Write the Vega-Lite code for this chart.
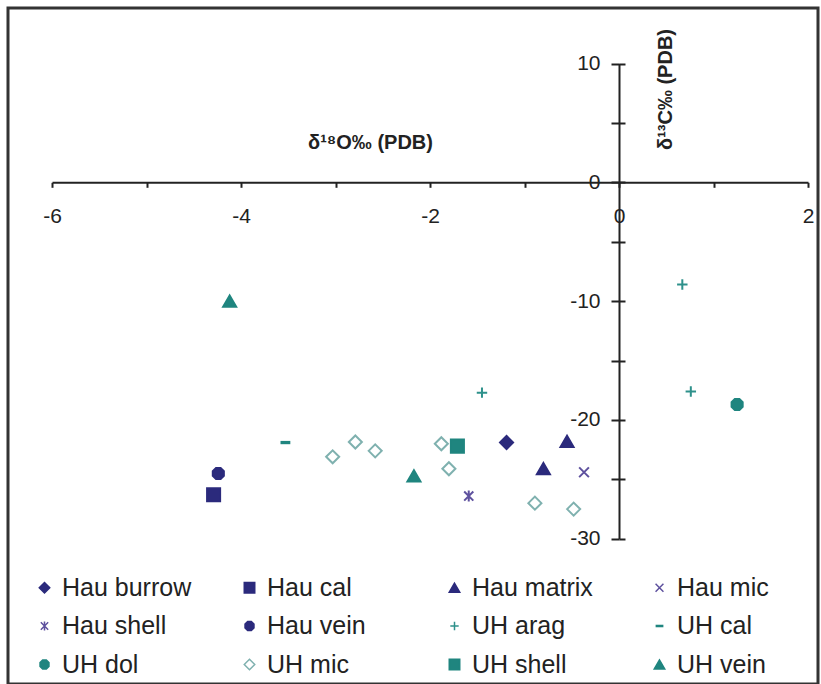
{
  "$schema": "https://vega.github.io/schema/vega-lite/v6.json",
  "width": 810,
  "height": 676,
  "autosize": "none",
  "padding": {"left": 8, "top": 8, "right": 3, "bottom": 0},
  "background": "white",
  "data": {
    "values": [
      {"series": "Hau burrow", "d18O": -1.19, "d13C": -21.9},
      {"series": "Hau cal", "d18O": -4.29, "d13C": -26.3},
      {"series": "Hau matrix", "d18O": -0.55, "d13C": -21.8},
      {"series": "Hau matrix", "d18O": -0.80, "d13C": -24.1},
      {"series": "Hau mic", "d18O": -0.37, "d13C": -24.4},
      {"series": "Hau shell", "d18O": -1.59, "d13C": -26.4},
      {"series": "Hau vein", "d18O": -4.24, "d13C": -24.5},
      {"series": "UH arag", "d18O": -1.45, "d13C": -17.7},
      {"series": "UH arag", "d18O": 0.67, "d13C": -8.6},
      {"series": "UH arag", "d18O": 0.76, "d13C": -17.6},
      {"series": "UH cal", "d18O": -3.53, "d13C": -21.9},
      {"series": "UH dol", "d18O": 1.25, "d13C": -18.7},
      {"series": "UH mic", "d18O": -3.03, "d13C": -23.1},
      {"series": "UH mic", "d18O": -2.79, "d13C": -21.85},
      {"series": "UH mic", "d18O": -2.58, "d13C": -22.6},
      {"series": "UH mic", "d18O": -1.88, "d13C": -22.0},
      {"series": "UH mic", "d18O": -1.80, "d13C": -24.1},
      {"series": "UH mic", "d18O": -0.89, "d13C": -27.0},
      {"series": "UH mic", "d18O": -0.48, "d13C": -27.5},
      {"series": "UH shell", "d18O": -1.71, "d13C": -22.2},
      {"series": "UH vein", "d18O": -4.12, "d13C": -10.0},
      {"series": "UH vein", "d18O": -2.17, "d13C": -24.7}
    ]
  },
  "layer": [
    {
      "mark": {"type": "point", "size": 170, "strokeWidth": 2, "opacity": 1},
      "encoding": {
        "x": {
          "field": "d18O",
          "type": "quantitative",
          "scale": {"domain": [-6, 2], "range": [44, 800], "nice": false, "zero": false},
          "axis": {
            "orient": "bottom",
            "offset": -501.7,
            "values": [-6, -5, -4, -3, -2, -1, 0, 1, 2],
            "labelExpr": "datum.value % 2 === 0 ? datum.value + '' : ''",
            "grid": false,
            "domainColor": "#222",
            "domainWidth": 2,
            "tickColor": "#222",
            "tickWidth": 2,
            "tickSize": 5,
            "labelFont": "Liberation Sans",
            "labelFontSize": 21,
            "labelColor": "#222",
            "labelPadding": 18,
            "labelFlush": false,
            "labelOverlap": false,
            "labelBound": false,
            "title": "δ¹⁸O‰ (PDB)",
            "titleFont": "Liberation Sans",
            "titleFontSize": 20,
            "titleFontWeight": "bold",
            "titleColor": "#222",
            "titleX": 362,
            "titleY": -40,
            "titleAlign": "center",
            "titleBaseline": "middle"
          }
        },
        "y": {
          "field": "d13C",
          "type": "quantitative",
          "scale": {"domain": [-30, 10], "range": [530.8, 55.5], "nice": false, "zero": false},
          "axis": {
            "orient": "left",
            "offset": -611,
            "values": [-30, -25, -20, -15, -10, -5, 0, 5, 10],
            "labelExpr": "datum.value % 10 === 0 ? datum.value + '' : ''",
            "grid": false,
            "domainColor": "#222",
            "domainWidth": 2,
            "tickColor": "#222",
            "tickWidth": 2,
            "tickSize": 8,
            "labelFont": "Liberation Sans",
            "labelFontSize": 21,
            "labelColor": "#222",
            "labelPadding": 11,
            "labelFlush": false,
            "labelOverlap": false,
            "labelBound": false,
            "title": "δ¹³C‰ (PDB)",
            "titleFont": "Liberation Sans",
            "titleFontSize": 20,
            "titleFontWeight": "bold",
            "titleColor": "#222",
            "titleAngle": -90,
            "titleX": 46,
            "titleY": 81,
            "titleAlign": "center",
            "titleBaseline": "middle"
          }
        },
        "shape": {
          "field": "series",
          "type": "nominal",
          "scale": {
            "domain": ["Hau burrow", "Hau cal", "Hau matrix", "Hau mic", "Hau shell", "Hau vein", "UH arag", "UH cal", "UH dol", "UH mic", "UH shell", "UH vein"],
            "range": [
              "diamond",
              "square",
              "triangle-up",
              "M-0.75,-0.75L0.75,0.75M-0.75,0.75L0.75,-0.75",
              "M-0.7,-0.7L0.7,0.7M-0.7,0.7L0.7,-0.7M0,-0.85L0,0.85",
              "M-0.35,-0.85L0.35,-0.85L0.85,-0.35L0.85,0.35L0.35,0.85L-0.35,0.85L-0.85,0.35L-0.85,-0.35Z",
              "M-0.8,0L0.8,0M0,-0.8L0,0.8",
              "M-0.6,-0.1L0.6,-0.1L0.6,0.1L-0.6,0.1Z",
              "M-0.35,-0.85L0.35,-0.85L0.85,-0.35L0.85,0.35L0.35,0.85L-0.35,0.85L-0.85,0.35L-0.85,-0.35Z",
              "diamond",
              "square",
              "triangle-up"
            ]
          },
          "legend": {
            "title": null,
            "orient": "none",
            "legendX": 24,
            "legendY": 567,
            "direction": "horizontal",
            "columns": 4,
            "gridAlign": "all",
            "columnPadding": 45,
            "rowPadding": 12.5,
            "padding": 0,
            "symbolSize": 110,
            "symbolStrokeWidth": 1.5,
            "symbolOpacity": 1,
            "labelFont": "Liberation Sans",
            "labelFontSize": 25,
            "labelColor": "#222",
            "labelOffset": 5,
            "labelLimit": 200
          }
        },
        "fill": {
          "field": "series",
          "type": "nominal",
          "scale": {
            "domain": ["Hau burrow", "Hau cal", "Hau matrix", "Hau mic", "Hau shell", "Hau vein", "UH arag", "UH cal", "UH dol", "UH mic", "UH shell", "UH vein"],
            "range": ["#2B2A7C", "#2B2A7C", "#2B2A7C", "transparent", "transparent", "#2B2A7C", "transparent", "#1F857F", "#1F857F", "transparent", "#1F857F", "#1F857F"]
          }
        },
        "stroke": {
          "field": "series",
          "type": "nominal",
          "scale": {
            "domain": ["Hau burrow", "Hau cal", "Hau matrix", "Hau mic", "Hau shell", "Hau vein", "UH arag", "UH cal", "UH dol", "UH mic", "UH shell", "UH vein"],
            "range": ["#2B2A7C", "#2B2A7C", "#2B2A7C", "#5E519E", "#5E519E", "#2B2A7C", "#2E918B", "#1F857F", "#1F857F", "#7FB1AF", "#1F857F", "#1F857F"]
          }
        }
      }
    },
    {
      "mark": {"type": "point", "opacity": 0},
      "encoding": {
        "y": {
          "field": "d13C",
          "type": "quantitative",
          "axis": {
            "orient": "left",
            "offset": -611,
            "values": [-30, -25, -20, -15, -10, -5, 0, 5, 10],
            "labels": false,
            "domain": false,
            "grid": false,
            "tickColor": "#222",
            "tickWidth": 2,
            "tickSize": -6,
            "title": null
          }
        }
      }
    }
  ],
  "resolve": {"axis": {"y": "independent"}},
  "config": {
    "view": {"stroke": "#333", "strokeWidth": 3}
  }
}
